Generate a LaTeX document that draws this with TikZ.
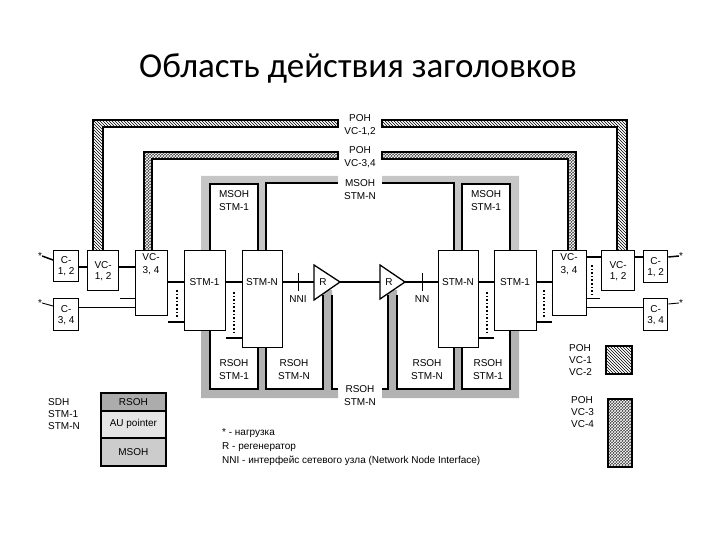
\documentclass[tikz,border=0pt]{standalone}
\usepackage{fontspec}
\setmainfont{Liberation Sans}
\newfontfamily\titlefont{Carlito}
\usetikzlibrary{patterns}
\begin{document}
\begin{tikzpicture}[x=1pt,y=-1pt,
  box/.style={draw,line width=1.3pt,fill=white,inner sep=0pt,anchor=north west,align=center,font=\fontsize{10}{11}\selectfont},
  lab/.style={inner sep=0pt,align=center,font=\fontsize{10}{13}\selectfont},
  conn/.style={line width=1.5pt},
  thin/.style={line width=0.9pt},
  dots/.style={line width=1.6pt,dotted},
  hatchA/.style={pattern=north west lines},
  hatchB/.style={fill=black!75,postaction={pattern=crosshatch,pattern color=white}},
  msoh/.style={fill=gray!45},
  rsoh/.style={fill=gray!60},
  edge/.style={line width=1.1pt}]
\useasboundingbox (0,0) rectangle (720,540);
\node[font=\titlefont\fontsize{35}{40}\selectfont] (title) at (358,68) {Область действия заголовков};

% bands
\foreach \s in {1,-1}{
\begin{scope}[shift={(360,0)},xscale=\s]
\filldraw[hatchA,edge] (-267,250)--(-267,120)--(-22,120)--(-22,127)--(-257,127)--(-257,250);
\filldraw[hatchB,edge] (-216,250)--(-216,152)--(-22,152)--(-22,159)--(-208,159)--(-208,250);
\draw[edge] (-216,250)--(-216,152)--(-22,152)--(-22,159)--(-208,159)--(-208,250);
\fill[msoh] (-159,250)--(-159,176)--(-22,176)--(-22,183)--(-94,183)--(-94,250)--(-102,250)--(-102,184)--(-150,184)--(-150,250)--cycle;
\draw[edge] (-150,250)--(-150,184)--(-102,184)--(-102,250);
\draw[edge] (-94,250)--(-94,183)--(-22,183);
\fill[rsoh] (-159,330)--(-159,398)--(-22,398)--(-22,389)--(-28,389)--(-28,290)--(-37,290)--(-37,389)--(-94,389)--(-94,347)--(-102,347)--(-102,389)--(-150,389)--(-150,330)--cycle;
\draw[edge] (-150,330)--(-150,389)--(-102,389)--(-102,347);
\draw[edge] (-94,347)--(-94,389)--(-37,389)--(-37,295);
\draw[edge] (-28,295)--(-28,389)--(-22,389);
\end{scope}}

% center labels
\node[lab] (l1) at (360,125) {POH\\VC-1,2};
\node[lab] (l2) at (360,157) {POH\\VC-3,4};
\node[lab] (l3) at (360,190) {MSOH\\STM-N};
\node[lab] (l4) at (360,396) {RSOH\\STM-N};
\node[lab] (m1) at (234,201) {MSOH\\STM-1};
\node[lab] (m2) at (486,201) {MSOH\\STM-1};
\node[lab] (r1) at (234,370) {RSOH\\STM-1};
\node[lab] (r2) at (294,370) {RSOH\\STM-N};
\node[lab] (r3) at (427,370) {RSOH\\STM-N};
\node[lab] (r4) at (488,370) {RSOH\\STM-1};

% left boxes
\node[box,minimum width=25pt,minimum height=31pt] (c12L) at (53,250) {C-\\1, 2};
\node[box,minimum width=31pt,minimum height=40pt] (vc12L) at (87,250) {VC-\\1, 2};
\node[box,minimum width=32pt,minimum height=65pt] (vc34L) at (135,250) {};
\node[lab,anchor=north] at (151,253) {VC-\\3, 4};
\node[box,minimum width=25pt,minimum height=32pt] (c34L) at (53,298) {C-\\3, 4};
\node[box,minimum width=41pt,minimum height=80pt] (stm1L) at (184,250) {};
\node[box,minimum width=40pt,minimum height=97pt] (stmnL) at (242,250) {};
\node[lab] at (204.5,282) {STM-1};
\node[lab] at (262,282) {STM-N};
% right boxes
\node[box,minimum width=40pt,minimum height=97pt] (stmnR) at (438,250) {};
\node[box,minimum width=42pt,minimum height=80pt] (stm1R) at (494,250) {};
\node[lab] at (458,282) {STM-N};
\node[lab] at (515,282) {STM-1};
\node[box,minimum width=34pt,minimum height=65pt] (vc34R) at (552,250) {};
\node[lab,anchor=north] at (569,253) {VC-\\3, 4};
\node[box,minimum width=33pt,minimum height=40pt] (vc12R) at (601,250) {VC-\\1, 2};
\node[box,minimum width=24pt,minimum height=32pt] (c12R) at (643,250) {C-\\1, 2};
\node[box,minimum width=24pt,minimum height=32pt] (c34R) at (643,298) {C-\\3, 4};

% regenerators
\filldraw[fill=white,line width=1.3pt] (314,265)--(340,282)--(314,300)--cycle;
\filldraw[fill=white,line width=1.3pt] (380,265)--(405,282)--(380,299)--cycle;
\coordinate (RLtip) at (340,282); \coordinate (RLin) at (314,282);
\coordinate (RRtip) at (405,282); \coordinate (RRin) at (380,282);
\node[lab] (RL) at (323,282) {R};
\node[lab] (RR) at (389,282) {R};

% stars
\node[lab] (s1) at (40,256) {*};
\node[lab] (s2) at (40,303) {*};
\node[lab] (s3) at (681,256) {*};
\node[lab] (s4) at (681,303) {*};

% left connectors
\draw[conn] (s1.east) -- (c12L.west|-0,260);
\draw[conn] (c12L.east|-0,267) -- (vc12L.west|-0,267);
\draw[conn] (vc12L.east|-0,267) -- (vc34L.west|-0,267);
\draw[thin] (s2.east) -- (c34L.west|-0,306);
\draw[thin] (c34L.east|-0,307) -- (vc34L.west|-0,307);
\draw[thin] (120,298) -- (vc34L.west|-0,298);
\draw[conn] (vc34L.east|-0,282) -- (stm1L.west|-0,282);
\draw[dots] (177,290) -- (177,318);
\draw[conn] (vc34L.east|-0,322) -- (stm1L.west|-0,322);
\draw[conn] (stm1L.east|-0,282) -- (stmnL.west|-0,282);
\draw[dots] (234,292) -- (234,335);
\draw[conn] (stm1L.east|-0,338) -- (stmnL.west|-0,338);
\draw[conn] (stmnL.east|-0,282) -- (RLin);
\draw[conn] (RLtip) -- (RRin);
\draw[thin] (298,273) -- (298,291);
\node[lab] (nni1) at (298,299) {NNI};
% right connectors
\draw[conn] (RRtip) -- (stmnR.west|-0,282);
\draw[thin] (422,273) -- (422,291);
\node[lab] (nni2) at (422,299) {NN};
\draw[conn] (stmnR.east|-0,282) -- (stm1R.west|-0,282);
\draw[dots] (487,292) -- (487,335);
\draw[conn] (stmnR.east|-0,338) -- (stm1R.west|-0,338);
\draw[conn] (stm1R.east|-0,282) -- (vc34R.west|-0,282);
\draw[dots] (544,290) -- (544,318);
\draw[conn] (stm1R.east|-0,322) -- (vc34R.west|-0,322);
\draw[conn] (vc34R.east|-0,257) -- (vc12R.west|-0,257);
\draw[conn] (vc12R.east|-0,257) -- (c12R.west|-0,257);
\draw[conn] (c12R.east|-0,257) -- (s3.west);
\draw[dots] (592,265) -- (592,295);
\draw[thin] (vc34R.east|-0,298) -- (600,298);
\draw[thin] (vc34R.east|-0,307) -- (c34R.west|-0,307);
\draw[thin] (c34R.east|-0,304) -- (s4.west);

% legend right
\node[lab,anchor=north west,align=left,font=\fontsize{10}{12}\selectfont] (lg1) at (569,344) {POH\\VC-1\\VC-2};
\filldraw[hatchA,line width=1.8pt] (606,346) rectangle (632,374);
\node[lab,anchor=north west,align=left,font=\fontsize{10}{12}\selectfont] (lg2) at (571,396) {POH\\VC-3\\VC-4};
\filldraw[hatchB,line width=1.8pt] (608,399) rectangle (632,467);
\draw[line width=1.8pt] (608,399) rectangle (632,467);

% legend bottom-left
\node[lab,anchor=north west,align=left,font=\fontsize{10}{12}\selectfont] (sdh) at (48,398) {SDH\\STM-1\\STM-N};
\node[draw,line width=1.8pt,fill=gray!65,minimum width=65pt,minimum height=18pt,inner sep=0pt,anchor=north west,font=\fontsize{10}{11}\selectfont] (lr) at (100,392) {RSOH};
\node[draw,line width=1.8pt,fill=gray!20,minimum width=65pt,minimum height=27pt,inner sep=0pt,anchor=north west,font=\fontsize{10}{11}\selectfont] (la) at (100,410) {AU pointer};
\node[draw,line width=1.8pt,fill=gray!40,minimum width=65pt,minimum height=28pt,inner sep=0pt,anchor=north west,font=\fontsize{10}{11}\selectfont] (lm) at (100,437) {MSOH};

% notes
\node[lab,anchor=north west,align=left,font=\fontsize{10}{14}\selectfont] (notes) at (222,428) {* - нагрузка\\R - регенератор\\NNI - интерфейс сетевого узла (Network Node Interface)};
\end{tikzpicture}
\end{document}
